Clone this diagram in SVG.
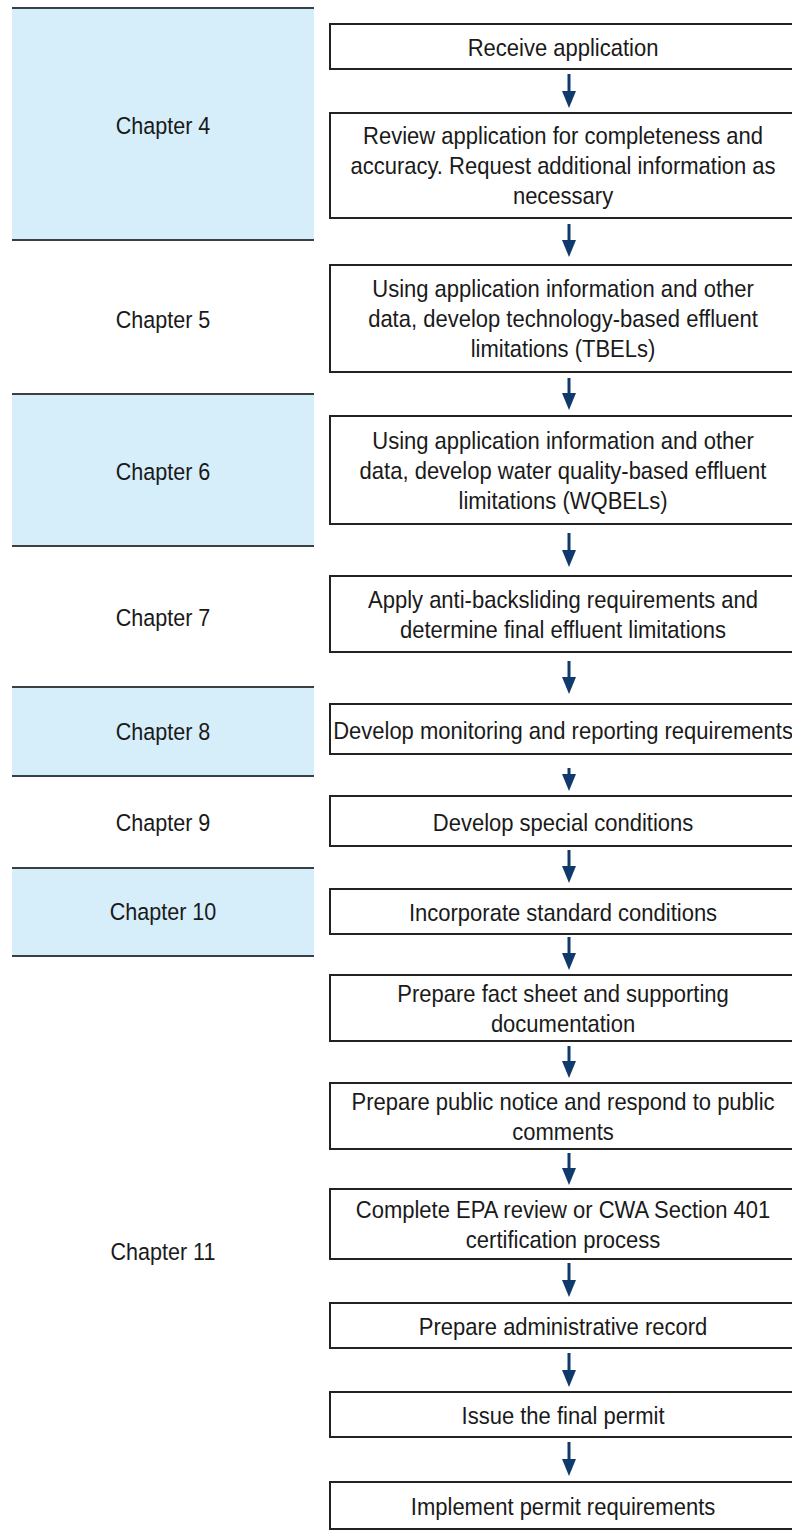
<svg xmlns="http://www.w3.org/2000/svg" width="792" height="1537" viewBox="0 0 792 1537">
<style>
  .band { fill: #d5eefa; }
  .bline { stroke: #3a3f44; stroke-width: 2; }
  .box { fill: #ffffff; stroke: #222222; stroke-width: 2; }
  .t { font-family: "Liberation Sans", Arial, sans-serif; font-size: 24px; fill: #1a1a1a; text-anchor: middle; }
  .ch { font-family: "Liberation Sans", Arial, sans-serif; font-size: 23.5px; fill: #1a1a1a; text-anchor: middle; }
  .arr { stroke: #0f3a6b; stroke-width: 3; fill: none; marker-end: url(#ah); }
</style>
<defs>
  <marker id="ah" viewBox="0 0 17 14" refX="7" refY="7" markerWidth="17" markerHeight="14" markerUnits="userSpaceOnUse" orient="auto">
    <path d="M0,0 L17,7 L0,14 Z" fill="#0f3a6b"/>
  </marker>
</defs>
<rect width="792" height="1537" fill="#ffffff"/>

<g id="chapters">
  <g id="ch4">
    <rect class="band" x="12" y="8" width="302" height="232"/>
    <line class="bline" x1="12" y1="8" x2="314" y2="8"/>
    <line class="bline" x1="12" y1="240" x2="314" y2="240"/>
    <text class="ch" x="177.75" y="134.5" transform="scale(0.917 1)">Chapter 4</text>
  </g>
  <g id="ch5"><text class="ch" x="177.75" y="328.5" transform="scale(0.917 1)">Chapter 5</text></g>
  <g id="ch6">
    <rect class="band" x="12" y="394" width="302" height="152"/>
    <line class="bline" x1="12" y1="394" x2="314" y2="394"/>
    <line class="bline" x1="12" y1="546" x2="314" y2="546"/>
    <text class="ch" x="177.75" y="480.5" transform="scale(0.917 1)">Chapter 6</text>
  </g>
  <g id="ch7"><text class="ch" x="177.75" y="626.5" transform="scale(0.917 1)">Chapter 7</text></g>
  <g id="ch8">
    <rect class="band" x="12" y="687" width="302" height="89"/>
    <line class="bline" x1="12" y1="687" x2="314" y2="687"/>
    <line class="bline" x1="12" y1="776" x2="314" y2="776"/>
    <text class="ch" x="177.75" y="740.5" transform="scale(0.917 1)">Chapter 8</text>
  </g>
  <g id="ch9"><text class="ch" x="177.75" y="831.5" transform="scale(0.917 1)">Chapter 9</text></g>
  <g id="ch10">
    <rect class="band" x="12" y="868" width="302" height="88"/>
    <line class="bline" x1="12" y1="868" x2="314" y2="868"/>
    <line class="bline" x1="12" y1="956" x2="314" y2="956"/>
    <text class="ch" x="177.75" y="920.5" transform="scale(0.917 1)">Chapter 10</text>
  </g>
  <g id="ch11"><text class="ch" x="177.75" y="1260.5" transform="scale(0.917 1)">Chapter 11</text></g>
</g>

<g id="connectors">
  <line class="arr" x1="569" y1="74" x2="569" y2="98"/>
  <line class="arr" x1="569" y1="224" x2="569" y2="247"/>
  <line class="arr" x1="569" y1="378" x2="569" y2="400"/>
  <line class="arr" x1="569" y1="533" x2="569" y2="557"/>
  <line class="arr" x1="569" y1="661" x2="569" y2="684"/>
  <line class="arr" x1="569" y1="768" x2="569" y2="781"/>
  <line class="arr" x1="569" y1="850" x2="569" y2="873"/>
  <line class="arr" x1="569" y1="937" x2="569" y2="960"/>
  <line class="arr" x1="569" y1="1046" x2="569" y2="1068"/>
  <line class="arr" x1="569" y1="1153" x2="569" y2="1175"/>
  <line class="arr" x1="569" y1="1263" x2="569" y2="1287"/>
  <line class="arr" x1="569" y1="1353" x2="569" y2="1377"/>
  <line class="arr" x1="569" y1="1442" x2="569" y2="1466"/>
</g>

<g id="n1"><rect class="box" x="330" y="24" width="480" height="45"/>
  <text class="t" x="614" y="56.5" transform="scale(0.917 1)">Receive application</text></g>
<g id="n2"><rect class="box" x="330" y="113" width="480" height="105"/>
  <text class="t" x="614" y="144.5" transform="scale(0.917 1)">Review application for completeness and</text>
  <text class="t" x="614" y="174.5" transform="scale(0.917 1)">accuracy. Request additional information as</text>
  <text class="t" x="614" y="204.5" transform="scale(0.917 1)">necessary</text></g>
<g id="n3"><rect class="box" x="330" y="265" width="480" height="107"/>
  <text class="t" x="614" y="297.5" transform="scale(0.917 1)">Using application information and other</text>
  <text class="t" x="614" y="327.5" transform="scale(0.917 1)">data, develop technology-based effluent</text>
  <text class="t" x="614" y="357.5" transform="scale(0.917 1)">limitations (TBELs)</text></g>
<g id="n4"><rect class="box" x="330" y="416" width="480" height="108"/>
  <text class="t" x="614" y="449" transform="scale(0.917 1)">Using application information and other</text>
  <text class="t" x="614" y="479" transform="scale(0.917 1)">data, develop water quality-based effluent</text>
  <text class="t" x="614" y="509" transform="scale(0.917 1)">limitations (WQBELs)</text></g>
<g id="n5"><rect class="box" x="330" y="576" width="480" height="76"/>
  <text class="t" x="614" y="608" transform="scale(0.917 1)">Apply anti-backsliding requirements and</text>
  <text class="t" x="614" y="638" transform="scale(0.917 1)">determine final effluent limitations</text></g>
<g id="n6"><rect class="box" x="330" y="704" width="480" height="50"/>
  <text class="t" x="614" y="739" transform="scale(0.917 1)">Develop monitoring and reporting requirements</text></g>
<g id="n7"><rect class="box" x="330" y="796" width="480" height="50"/>
  <text class="t" x="614" y="831" transform="scale(0.917 1)">Develop special conditions</text></g>
<g id="n8"><rect class="box" x="330" y="889" width="480" height="45"/>
  <text class="t" x="614" y="921.5" transform="scale(0.917 1)">Incorporate standard conditions</text></g>
<g id="n9"><rect class="box" x="330" y="975" width="480" height="66"/>
  <text class="t" x="614" y="1002" transform="scale(0.917 1)">Prepare fact sheet and supporting</text>
  <text class="t" x="614" y="1032" transform="scale(0.917 1)">documentation</text></g>
<g id="n10"><rect class="box" x="330" y="1083" width="480" height="66"/>
  <text class="t" x="614" y="1110" transform="scale(0.917 1)">Prepare public notice and respond to public</text>
  <text class="t" x="614" y="1140" transform="scale(0.917 1)">comments</text></g>
<g id="n11"><rect class="box" x="330" y="1189" width="480" height="70"/>
  <text class="t" x="614" y="1218" transform="scale(0.917 1)">Complete EPA review or CWA Section 401</text>
  <text class="t" x="614" y="1248" transform="scale(0.917 1)">certification process</text></g>
<g id="n12"><rect class="box" x="330" y="1303" width="480" height="45"/>
  <text class="t" x="614" y="1335.5" transform="scale(0.917 1)">Prepare administrative record</text></g>
<g id="n13"><rect class="box" x="330" y="1392" width="480" height="45"/>
  <text class="t" x="614" y="1424.5" transform="scale(0.917 1)">Issue the final permit</text></g>
<g id="n14"><rect class="box" x="330" y="1482" width="480" height="47"/>
  <text class="t" x="614" y="1515.5" transform="scale(0.917 1)">Implement permit requirements</text></g>
</svg>
